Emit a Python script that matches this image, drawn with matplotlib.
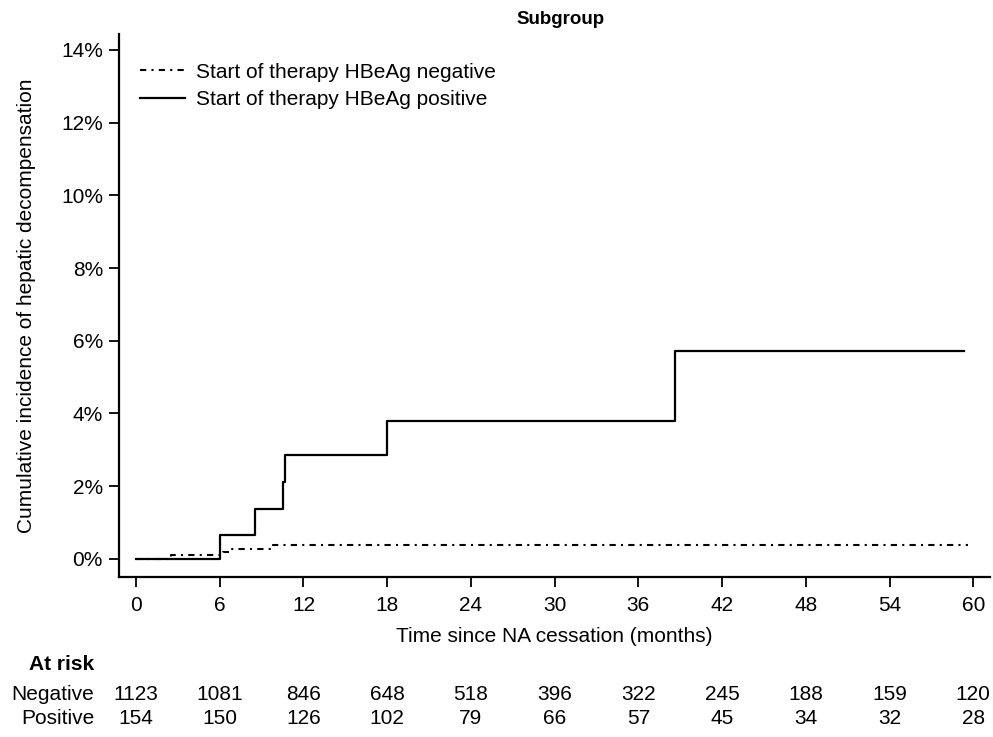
import matplotlib
matplotlib.use("Agg")
import matplotlib.pyplot as plt
import matplotlib.transforms as mtransforms

plt.rcParams['font.family'] = ['Liberation Sans', 'DejaVu Sans']

# step curves (months, cumulative incidence %)
neg_t = [0, 2.5, 6.2, 6.8, 9.8, 59.6]
neg_y = [0, 0.1, 0.2, 0.28, 0.38, 0.38]
pos_t = [0, 6.0, 8.5, 10.5, 10.7, 18.0, 38.6, 59.3]
pos_y = [0, 0.66, 1.37, 2.1, 2.86, 3.8, 5.73, 5.73]

risk_times = [0, 6, 12, 18, 24, 30, 36, 42, 48, 54, 60]
risk_neg = [1123, 1081, 846, 648, 518, 396, 322, 245, 188, 159, 120]
risk_pos = [154, 150, 126, 102, 79, 66, 57, 45, 34, 32, 28]

fs = 15

fig = plt.figure(figsize=(9.93, 7.37), dpi=100)
ax = fig.add_axes([0.1198, 0.2171, 0.997 - 0.1198, 0.9539 - 0.2171])

ax.step(neg_t, neg_y, where='post', color='black', lw=1.5,
        linestyle=(0, (3, 2.5, 1, 2.5)), label='Start of therapy HBeAg negative')
ax.step(pos_t, pos_y, where='post', color='black', lw=1.6,
        label='Start of therapy HBeAg positive')

ax.set_xlim(-1.22, 61.2)
ax.set_ylim(-0.5, 14.44)
ax.set_xticks(risk_times)
ax.set_yticks(range(0, 15, 2))
ax.set_yticklabels([f'{v}%' for v in range(0, 15, 2)])
ax.tick_params(labelsize=fs, length=7.5, width=1.3, colors='black', pad=4)
ax.tick_params(axis='x', pad=6)
for side in ['top', 'right']:
    ax.spines[side].set_visible(False)
for side in ['left', 'bottom']:
    ax.spines[side].set_linewidth(1.6)

ax.set_xlabel('Time since NA cessation (months)', fontsize=fs)
ax.set_ylabel('Cumulative incidence of hepatic decompensation', fontsize=fs)
ax.xaxis.set_label_coords(0.5, -0.092)
ax.yaxis.set_label_coords(-0.095, 0.5)
ax.set_title('Subgroup', fontsize=13.5, fontweight='bold', pad=7, x=0.507)

ax.legend(loc='upper left', bbox_to_anchor=(0.003, 0.982), frameon=False,
          fontsize=fs, handlelength=2.15, handletextpad=0.5, labelspacing=0.4)

# at-risk table
trans = mtransforms.blended_transform_factory(ax.transData, fig.transFigure)
fig.text(0.095, 1 - 664 / 737, 'At risk', fontsize=fs, fontweight='bold',
         ha='right', va='center')
fig.text(0.095, 1 - 694 / 737, 'Negative', fontsize=fs, ha='right', va='center')
fig.text(0.095, 1 - 718 / 737, 'Positive', fontsize=fs, ha='right', va='center')
for t, n, p in zip(risk_times, risk_neg, risk_pos):
    ax.text(t, 1 - 694 / 737, str(n), transform=trans, fontsize=fs,
            ha='center', va='center', clip_on=False)
    ax.text(t, 1 - 718 / 737, str(p), transform=trans, fontsize=fs,
            ha='center', va='center', clip_on=False)

fig.savefig('out.png', dpi=100)
